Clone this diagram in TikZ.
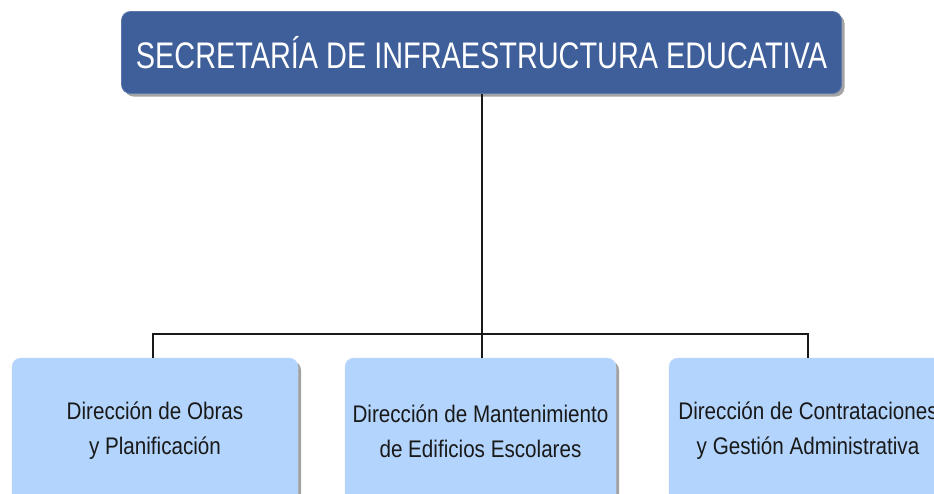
\documentclass[tikz,border=0pt]{standalone}
\usepackage{fontspec}
\setmainfont{Liberation Sans}
\newfontfamily\titlefont{Liberation Sans}[FakeStretch=0.78]
\newfontfamily\boxfont{Liberation Sans}[FakeStretch=0.86]
\usetikzlibrary{shadows}
\definecolor{topblue}{RGB}{63,95,154}
\definecolor{lightblue}{RGB}{179,212,252}
\definecolor{boxtext}{RGB}{25,25,25}
\tikzset{
  topbox/.style={draw=topblue!85!white, line width=0.8pt, fill=topblue, rounded corners=9pt,
    minimum width=720pt, minimum height=82pt, inner sep=0pt,
    drop shadow={shadow xshift=3pt, shadow yshift=-3pt, fill=black!45, opacity=0.8},
    text=white, font=\titlefont\fontsize{37}{40}\selectfont},
  subbox/.style={draw=lightblue!90!white, fill=lightblue, rounded corners=9pt,
    minimum height=146pt, inner sep=0pt, align=center,
    drop shadow={shadow xshift=3pt, shadow yshift=-3pt, fill=black!45, opacity=0.8},
    text=boxtext, font=\boxfont\fontsize{24}{35}\selectfont},
  conn/.style={draw=black!90, line width=1.5pt}
}
\begin{document}
\begin{tikzpicture}[x=1pt,y=-1pt]
\useasboundingbox (0,0) rectangle (934,493);
\clip (0,0) rectangle (934,493);
\node[topbox] (top) at (481.5,52.5) {SECRETARÍA DE INFRAESTRUCTURA EDUCATIVA};
\node[subbox, minimum width=286pt] (b1) at (155,431) {Dirección de Obras\\y Planificación};
\node[subbox, minimum width=271pt] (b2) at (480.5,431) {Dirección de Mantenimiento\\de Edificios Escolares};
\node[subbox, minimum width=278pt] (b3) at (808,431) {Dirección de Contrataciones\\y Gestión Administrativa};
\coordinate (bus) at (482,334);
\draw[conn] (top.south -| bus) -- (bus);
\draw[conn] (bus) -| ([xshift=-2pt]b1.north);
\draw[conn] (bus) -| (b3.north);
\draw[conn] (bus) -- (bus |- b2.north);
\end{tikzpicture}
\end{document}
